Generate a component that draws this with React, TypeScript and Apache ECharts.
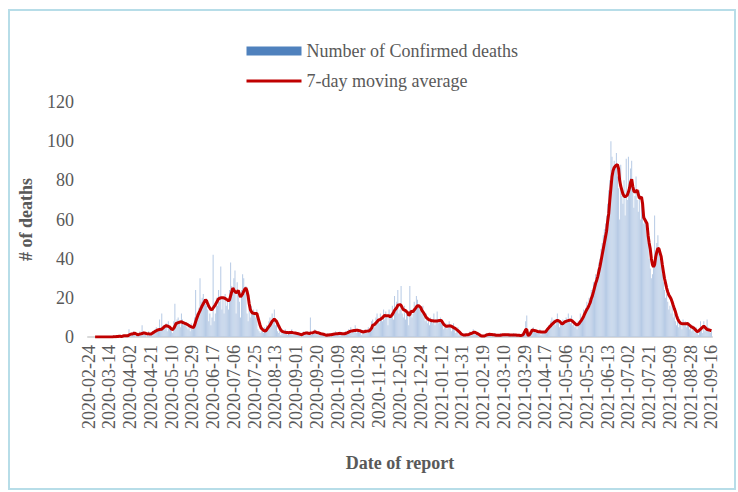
import React, { useEffect, useRef } from "react";
import * as echarts from "echarts";

const START_DATE = "2020-02-24";
const LABEL_EVERY = 19;

// Daily confirmed deaths, one row per 19-day label interval
const dailyDeaths: number[] = [
  0,0,0,0,0,0,0,0,0,0,0,0,0,0,0,0,0,0,0,
  0,0,0,0,1,0,0,1,0,1,0,0,1,1,0,1,0,1,4,
  1,2,1,3,2,0,1,2,1,3,2,6,3,2,1,0,2,3,1,
  1,2,3,2,4,5,3,4,9,5,12,4,6,5,7,3,8,5,4,
  3,2,8,17,6,9,10,7,5,12,9,6,8,7,5,4,6,3,7,
  4,5,10,24,12,10,15,30,18,20,22,19,17,16,14,8,12,6,10,
  42,8,12,20,16,24,18,36,14,20,12,22,16,18,14,24,38,26,22,
  30,34,12,28,22,18,10,24,32,30,22,26,12,8,14,10,16,12,14,
  12,10,14,4,3,2,3,4,2,5,3,6,4,8,10,7,12,9,14,
  6,8,3,2,4,1,2,3,2,4,2,1,3,2,2,4,1,2,2,
  1,2,1,2,0,1,2,3,2,1,3,2,1,10,1,2,3,4,2,
  2,1,3,2,1,2,1,0,1,1,2,1,0,2,1,2,1,3,2,
  1,2,3,1,2,1,2,3,2,3,4,3,5,2,4,3,6,2,4,
  3,2,4,1,3,2,4,3,2,5,3,4,8,9,6,5,10,12,9,
  7,12,10,8,14,9,13,11,6,14,10,12,16,9,21,14,18,24,12,
  14,26,12,10,16,9,14,12,6,26,14,10,12,18,15,21,19,16,14,
  13,12,16,10,8,12,7,9,6,10,8,7,12,6,9,13,7,8,10,
  9,6,4,5,7,4,6,8,5,3,6,7,4,2,3,5,1,2,1,
  0,1,1,2,0,1,2,3,1,2,4,2,1,2,1,0,1,0,1,
  0,0,1,2,1,2,1,1,2,0,1,2,1,0,1,1,2,0,1,
  1,2,0,1,1,2,1,0,1,2,1,1,0,1,1,0,1,2,1,
  3,8,11,0,1,2,4,3,5,4,2,3,3,2,4,1,3,2,3,
  2,3,5,6,4,8,10,7,9,6,8,12,9,5,7,6,9,8,7,
  10,8,12,9,7,11,6,8,5,7,4,8,6,12,9,10,14,11,15,
  18,14,20,16,24,22,28,24,32,30,35,38,40,45,48,52,55,58,62,
  68,75,80,100,92,85,90,88,94,82,76,60,88,72,68,80,62,91,70,
  92,74,86,90,80,66,72,82,70,64,75,60,72,64,58,62,60,52,48,
  40,35,30,32,38,62,42,48,52,44,40,36,32,28,24,20,22,18,14,
  16,12,18,10,12,8,6,10,5,8,7,4,9,6,8,5,7,6,4,
  5,3,6,4,2,5,3,1,4,8,5,2,8,3,4,9,5,3,2,
  3,
];

// 7-day moving average
const movingAverage: (number | null)[] = [
  null,null,null,null,null,null,0,0,0,0,0,0,0,0,0,0,0,0,0,
  0,0,0,0,0.1,0.1,0.1,0.3,0.3,0.4,0.4,0.3,0.4,0.6,0.6,0.6,0.7,0.6,1.0,
  1.3,1.5,1.5,1.7,2.0,1.7,1.4,1.2,1.3,1.5,1.6,1.8,2.0,2.0,1.9,1.7,1.6,1.6,1.5,
  1.5,1.8,2.2,2.5,2.9,3.2,3.5,3.7,3.8,3.9,4.0,4.5,5.0,5.5,5.8,5.6,5.4,5.2,4.6,
  4.0,3.8,4.5,5.5,6.8,7.1,7.3,7.5,7.7,7.8,7.5,7.2,7.0,6.8,6.5,6.2,5.8,5.5,5.2,
  5.0,4.8,6.0,7.8,9.5,11.0,12.3,13.5,14.8,16.0,17.0,18.0,19.0,18.5,17.0,15.7,14.8,14.0,14.0,
  14.8,15.6,16.5,17.5,18.5,19.5,19.8,20.0,20.0,20.0,19.9,19.7,19.3,19.0,18.5,19.0,21.0,23.0,25.0,
  24.0,23.2,22.5,23.0,23.8,22.0,20.5,21.2,22.0,23.3,24.5,25.0,23.5,21.0,17.0,14.0,13.0,12.2,12.1,
  12.0,12.0,12.0,10.0,8.0,6.0,4.5,4.0,3.4,3.2,3.0,3.7,4.5,5.3,6.0,7.0,8.0,8.6,9.2,
  8.6,8.0,6.8,5.6,4.5,3.6,2.9,2.7,2.5,2.4,2.3,2.3,2.2,2.3,2.3,2.4,2.2,2.1,2.0,
  1.9,1.8,1.7,1.5,1.3,1.2,1.5,1.8,1.9,2.0,2.0,1.9,1.8,2.0,2.1,2.2,2.4,2.7,2.5,
  2.3,2.2,2.0,1.8,1.6,1.5,1.4,1.2,1.0,0.9,1.0,1.0,1.1,1.2,1.3,1.4,1.5,1.6,1.7,
  1.7,1.8,1.8,1.8,1.7,1.7,1.6,1.8,2.0,2.2,2.5,2.8,3.0,3.1,3.2,3.3,3.3,3.4,3.4,
  3.3,3.2,3.0,2.8,2.6,2.7,2.8,2.9,3.0,3.1,3.2,3.8,4.5,6.0,6.2,6.5,7.2,7.8,8.5,
  8.8,9.0,9.4,9.9,10.5,11.0,10.9,10.8,10.8,10.8,10.2,10.8,11.5,12.5,13.6,14.3,15.0,16.2,16.4,
  16.5,16.2,15.0,14.0,13.8,13.5,13.0,12.5,11.0,11.5,13.0,13.0,13.0,13.8,14.5,15.3,16.0,16.0,15.5,
  15.0,13.6,12.8,12.0,11.0,10.0,9.5,9.0,8.7,8.5,8.3,8.3,8.2,8.2,8.2,8.2,8.3,8.4,8.5,
  8.3,7.4,6.5,6.0,5.5,5.5,5.6,5.6,5.7,5.5,5.2,4.8,4.5,4.2,3.7,3.2,2.7,2.2,1.6,
  1.3,1.0,1.0,1.0,1.1,1.2,1.3,1.6,1.8,2.0,2.3,2.5,2.3,2.0,1.7,1.4,1.0,0.6,0.5,
  0.5,0.5,0.7,1.0,1.2,1.3,1.4,1.3,1.3,1.2,1.1,1.0,0.9,0.9,0.9,0.9,0.9,1.0,1.1,
  1.1,1.2,1.2,1.1,1.1,1.0,1.0,1.0,1.0,1.0,1.0,1.0,0.9,0.9,0.9,0.8,0.8,1.0,1.5,
  2.5,3.8,3.8,1.0,0.8,1.5,2.5,3.6,3.5,3.3,3.2,3.0,2.8,2.7,2.7,2.6,2.6,2.5,2.5,
  2.5,3.2,4.0,4.6,5.2,5.8,6.5,7.0,7.5,7.9,8.2,8.5,8.3,8.0,7.4,6.8,6.8,7.3,7.8,
  8.0,8.2,8.4,8.5,8.7,8.4,8.0,7.5,7.0,6.5,6.0,6.5,7.0,7.8,8.5,9.5,10.5,11.8,13.0,
  14.0,15.0,16.2,17.5,19.5,21.0,23.0,25.2,27.4,29.0,31.0,33.5,36.0,39.0,42.0,45.0,48.0,51.0,54.0,
  59,63,70,76,82,85,86.5,87.3,87.8,88,86,80,77,75,73,72,71.5,72,72.5,
  74,76,79,80.5,77,74.5,74,74.5,75,73,71,71,71.5,68,61,60,59,58,52,
  48,45,40,37,35.8,37,41,43.5,45.3,45,43,41,37,33.5,30,27.5,25,23,21.5,
  20.5,19.5,18,16.2,14.5,13,11,9.4,8.3,7.5,7,6.8,6.8,6.8,6.8,6.8,6.9,6.5,6,
  5.5,5.1,4.8,4.5,3.9,3.3,2.8,3.0,3.5,4.0,4.5,5.0,5.6,5.0,4.4,3.8,3.7,3.6,3.4,
  3.2,
];

const yTicks = { min: 0, max: 120, interval: 20 };

function buildDates(n: number): string[] {
  const start = Date.parse(START_DATE + "T00:00:00Z");
  const out: string[] = [];
  for (let i = 0; i < n; i++) {
    out.push(new Date(start + i * 86400000).toISOString().slice(0, 10));
  }
  return out;
}

const FONT = '"Times New Roman", "Liberation Serif", serif';
const TEXT = "#595959";

export default function App() {
  const ref = useRef<HTMLDivElement>(null);
  useEffect(() => {
    document.body.style.margin = "0";
    if (!ref.current) return;
    const chart = echarts.init(ref.current, null, { renderer: "svg" });
    const dates = buildDates(dailyDeaths.length);
    chart.setOption({
      animation: false,
      textStyle: { fontFamily: FONT },
      graphic: [
        {
          type: "rect",
          shape: { x: 9, y: 10, width: 726, height: 479 },
          style: { fill: "none", stroke: "#b7dde8", lineWidth: 2 },
          silent: true,
        },
      ],
      legend: {
        orient: "vertical",
        left: 240,
        top: 37,
        itemWidth: 55,
        itemHeight: 9,
        itemGap: 12,
        textStyle: { fontFamily: FONT, fontSize: 18, color: TEXT },
        data: [
          { name: "Number of Confirmed deaths", icon: "rect", itemStyle: { color: "#4f81bd" } },
          {
            name: "7-day moving average",
            itemStyle: { color: "rgba(0,0,0,0)", borderColor: "rgba(0,0,0,0)", borderWidth: 0 },
            lineStyle: { color: "#c00000", width: 3 },
          },
        ],
      },
      grid: { left: 88, right: 26, top: 102, bottom: 155, containLabel: false },
      xAxis: {
        type: "category",
        data: dates,
        name: "Date of report",
        nameLocation: "middle",
        nameGap: 117,
        nameTextStyle: { fontFamily: FONT, fontSize: 18, fontWeight: "bold", color: TEXT },
        axisLine: { lineStyle: { color: "#d9d9d9", width: 2 } },
        axisTick: { show: false },
        axisLabel: {
          interval: LABEL_EVERY - 1,
          rotate: 90,
          fontFamily: FONT,
          fontSize: 18,
          color: TEXT,
          margin: 8,
        },
        splitLine: { show: false },
      },
      yAxis: {
        type: "value",
        min: yTicks.min,
        max: yTicks.max,
        interval: yTicks.interval,
        name: "# of deaths",
        nameLocation: "middle",
        nameGap: 53,
        nameRotate: 90,
        nameTextStyle: { fontFamily: FONT, fontSize: 18, fontWeight: "bold", color: TEXT },
        axisLine: { show: false },
        axisTick: { show: false },
        splitLine: { show: false },
        axisLabel: { fontFamily: FONT, fontSize: 18, color: TEXT, margin: 14 },
      },
      series: [
        {
          name: "Number of Confirmed deaths",
          type: "bar",
          data: dailyDeaths,
          barCategoryGap: "25%",
          itemStyle: { color: "#b6cae5" },
        },
        {
          name: "7-day moving average",
          type: "line",
          data: movingAverage,
          showSymbol: false,
          symbol: "none",
          lineStyle: { color: "#c00000", width: 3 },
          itemStyle: { color: "#c00000" },
        },
      ],
    });
    return () => chart.dispose();
  }, []);
  return <div ref={ref} style={{ width: 738, height: 492 }} />;
}
